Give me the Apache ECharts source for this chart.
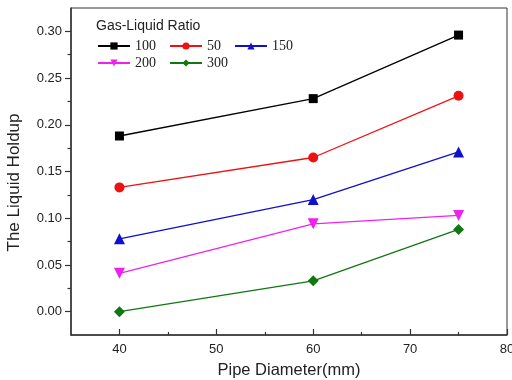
<!DOCTYPE html>
<html>
<head>
<meta charset="utf-8">
<script src="https://cdn.jsdelivr.net/npm/echarts@6/dist/echarts.min.js"></script>
<style>
  html, body { margin: 0; padding: 0; background: #fff; }
  #chart { width: 512px; height: 380px; }
</style>
</head>
<body>
<div id="chart"></div>
<script>
// Pipe diameters (mm)
const diameters = [40, 60, 75];

// Liquid holdup per gas-liquid ratio
const ratio100 = [0.188, 0.228, 0.296];
const ratio50 = [0.133, 0.165, 0.231];
const ratio150 = [0.078, 0.120, 0.171];
const ratio200 = [0.041, 0.094, 0.103];
const ratio300 = [0.000, 0.033, 0.088];

// Tick positions
const xMajorTicks = [40, 50, 60, 70, 80];
const xMinorTicks = [45, 55, 65, 75];
const yMajorTicks = [0, 0.05, 0.10, 0.15, 0.20, 0.25, 0.30];
const yMinorTicks = [0.025, 0.075, 0.125, 0.175, 0.225, 0.275];

const chart = echarts.init(document.getElementById('chart'));

const pairs = (ys) => diameters.map((x, i) => [x, ys[i]]);

const makeSeries = (name, ys, color, symbol, size, rotate) => ({
  name: name,
  type: 'line',
  data: pairs(ys),
  symbol: symbol,
  symbolSize: size,
  symbolRotate: rotate || 0,
  itemStyle: { color: color },
  lineStyle: { color: color, width: 1.3 },
  emphasis: { disabled: true }
});

const axisLineStyle = { color: '#333', width: 1.5 };
const legendText = { fontFamily: 'Liberation Serif', fontSize: 14, color: '#222' };

const options = {
  animation: false,
  title: {
    text: 'Gas-Liquid Ratio',
    left: 96,
    top: 19,
    padding: 0,
    textStyle: { fontFamily: 'Liberation Sans', fontSize: 14, fontWeight: 'normal', color: '#222' }
  },
  legend: [
    {
      data: ['100', '50', '150'],
      left: 97, top: 39, padding: 0,
      itemWidth: 32, itemHeight: 9, itemGap: 13,
      textStyle: legendText
    },
    {
      data: ['200', '300'],
      left: 97, top: 56, padding: 0,
      itemWidth: 32, itemHeight: 9, itemGap: 13,
      textStyle: legendText
    }
  ],
  grid: {
    left: 71, right: 5, top: 8, bottom: 45,
    outerBoundsMode: 'none',
    containLabel: false,
    show: true, borderColor: '#333', borderWidth: 1
  },
  xAxis: [
    {
      type: 'value',
      min: 35, max: 80,
      name: 'Pipe Diameter(mm)',
      nameLocation: 'middle',
      nameGap: 27,
      nameTextStyle: { fontFamily: 'Liberation Sans', fontSize: 16.5, color: '#222' },
      axisLine: { show: true, onZero: false, lineStyle: axisLineStyle },
      axisTick: { show: true, inside: true, length: 6, customValues: xMajorTicks, lineStyle: { color: '#333', width: 1.2 } },
      axisLabel: { customValues: xMajorTicks, margin: 8, hideOverlap: false, fontFamily: 'Liberation Sans', fontSize: 13, color: '#222' },
      splitLine: { show: false }
    },
    {
      type: 'value',
      min: 35, max: 80,
      position: 'bottom',
      axisLine: { show: false, onZero: false },
      axisTick: { show: true, inside: true, length: 3, customValues: xMinorTicks, lineStyle: { color: '#333', width: 1.2 } },
      axisLabel: { show: false },
      splitLine: { show: false }
    }
  ],
  yAxis: [
    {
      type: 'value',
      min: -0.025, max: 0.325,
      name: 'The Liquid Holdup',
      nameLocation: 'middle',
      nameGap: 48,
      nameTextStyle: { fontFamily: 'Liberation Sans', fontSize: 17, color: '#222', padding: [0, 22, 0, 0] },
      axisLine: { show: true, onZero: false, lineStyle: axisLineStyle },
      axisTick: { show: true, length: 6, customValues: yMajorTicks, lineStyle: { color: '#333', width: 1.2 } },
      axisLabel: {
        customValues: yMajorTicks,
        margin: 9,
        formatter: (v) => v.toFixed(2),
        fontFamily: 'Liberation Sans', fontSize: 13, color: '#222'
      },
      splitLine: { show: false }
    },
    {
      type: 'value',
      min: -0.025, max: 0.325,
      position: 'left',
      axisLine: { show: false, onZero: false },
      axisTick: { show: true, length: 3.5, customValues: yMinorTicks, lineStyle: { color: '#333', width: 1.2 } },
      axisLabel: { show: false },
      splitLine: { show: false }
    }
  ],
  series: [
    makeSeries('100', ratio100, '#000000', 'rect', 9),
    makeSeries('50', ratio50, '#ee1111', 'circle', 10),
    makeSeries('150', ratio150, '#1010cc', 'triangle', 11),
    makeSeries('200', ratio200, '#ee22ee', 'triangle', 11, 180),
    makeSeries('300', ratio300, '#117711', 'diamond', 11)
  ]
};

chart.setOption(options);
</script>
</body>
</html>
